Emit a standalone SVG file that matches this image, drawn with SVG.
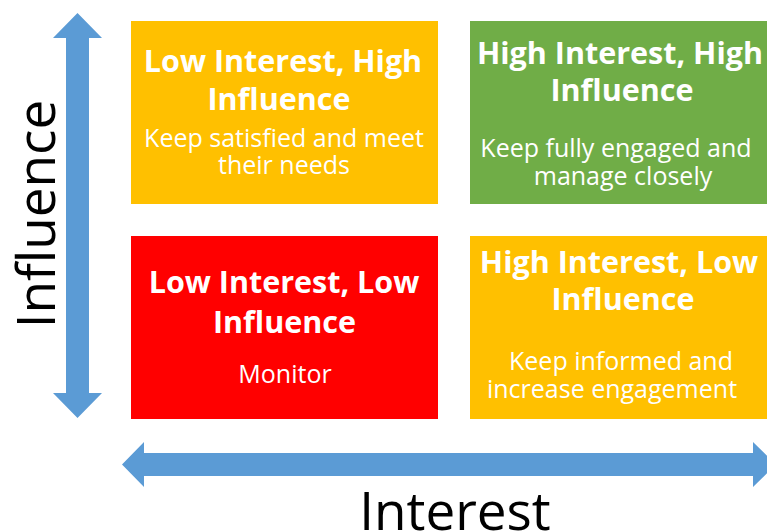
<svg xmlns="http://www.w3.org/2000/svg" width="767" height="531" viewBox="0 0 767 531">
<style>
.title{font-family:"Open Sans","Liberation Sans",sans-serif;font-weight:bold;font-size:30.5px;fill:#fff;text-anchor:middle}
.sub{font-family:"Open Sans","Liberation Sans",sans-serif;font-size:25px;fill:#fff;text-anchor:middle}
.axis{font-family:"Open Sans","Liberation Sans",sans-serif;font-size:53px;fill:#000;text-anchor:middle}
.arrow{fill:#5B9BD5}
</style>
<rect width="767" height="531" fill="#fff"/>
<g id="connectors">
<polygon class="arrow" points="77.5,13 102,38 89,38 89,393 102,393 77.5,418 53,393 66,393 66,38 53,38"/>
<polygon class="arrow" points="122,464.5 144,442 144,453 753,453 753,442 776,464.5 753,487 753,476 144,476 144,487"/>
</g>
<g id="axis-influence"><text class="axis" transform="translate(55,214) rotate(-90)">Influence</text></g>
<g id="axis-interest"><text class="axis" x="455" y="530">Interest</text></g>
<g id="low-high">
<rect x="131" y="21" width="307" height="183" fill="#FFC000"/>
<text class="title" x="283" y="72">Low Interest, High</text>
<text class="title" x="279" y="110">Influence</text>
<text class="sub" x="284" y="147">Keep satisfied and meet</text>
<text class="sub" x="284" y="174">their needs</text>
</g>
<g id="high-high">
<rect x="470" y="21" width="300" height="183" fill="#70AD47"/>
<text class="title" x="620" y="64">High Interest, High</text>
<text class="title" x="622" y="101">Influence</text>
<text class="sub" x="616" y="157">Keep fully engaged and</text>
<text class="sub" x="623" y="185">manage closely</text>
</g>
<g id="low-low">
<rect x="131" y="236" width="307" height="183" fill="#FF0000"/>
<text class="title" x="284" y="293">Low Interest, Low</text>
<text class="title" x="284.5" y="333">Influence</text>
<text class="sub" x="285" y="383">Monitor</text>
</g>
<g id="high-low">
<rect x="470" y="236" width="300" height="183" fill="#FFC000"/>
<text class="title" x="619" y="273">High Interest, Low</text>
<text class="title" x="623" y="310">Influence</text>
<text class="sub" x="621" y="370">Keep informed and</text>
<text class="sub" x="612" y="398">increase engagement</text>
</g>
</svg>
